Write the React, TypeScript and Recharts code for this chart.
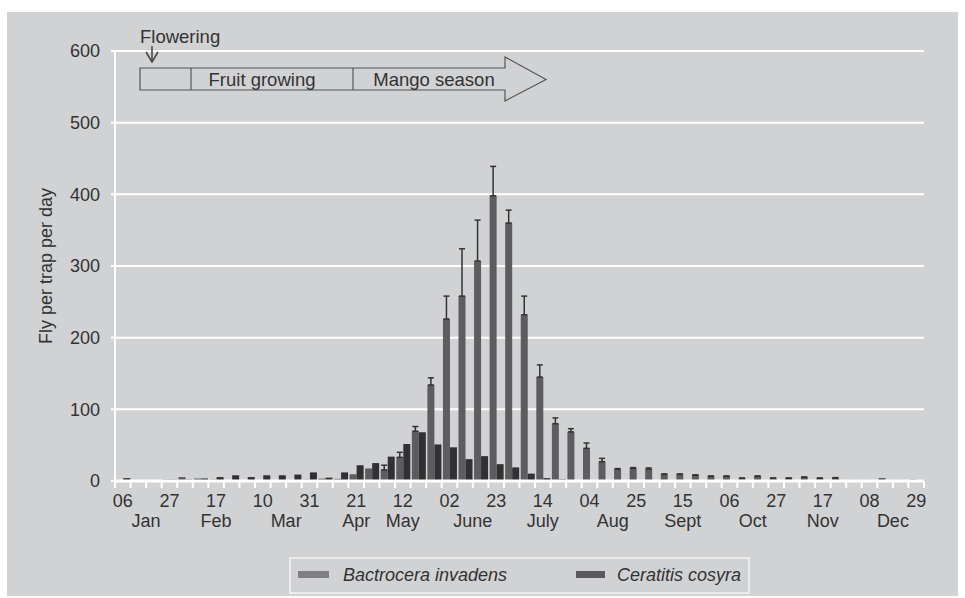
import React from 'react';
import { BarChart, Bar, XAxis, YAxis, CartesianGrid, ErrorBar } from 'recharts';

// weekly trap checks, one category per week
const weeks = [
  '06 Jan', '13 Jan', '20 Jan', '27 Jan', '03 Feb', '10 Feb', '17 Feb', '24 Feb',
  '03 Mar', '10 Mar', '17 Mar', '24 Mar', '31 Mar', '07 Apr', '14 Apr', '21 Apr',
  '28 Apr', '05 May', '12 May', '19 May', '26 May', '02 Jun', '09 Jun', '16 Jun',
  '23 Jun', '30 Jun', '07 Jul', '14 Jul', '21 Jul', '28 Jul', '04 Aug', '11 Aug',
  '18 Aug', '25 Aug', '01 Sep', '08 Sep', '15 Sep', '22 Sep', '29 Sep', '06 Oct',
  '13 Oct', '20 Oct', '27 Oct', '03 Nov', '10 Nov', '17 Nov', '24 Nov', '01 Dec',
  '08 Dec', '15 Dec', '22 Dec', '29 Dec',
];

const months = ['Jan', 'Feb', 'Mar', 'Apr', 'May', 'June', 'July', 'Aug', 'Sept', 'Oct', 'Nov', 'Dec'];
// week position (in categories) under which each month name sits
const monthWeekPos = [1.5, 6, 10.5, 15, 18, 22.5, 27, 31.5, 36, 40.5, 45, 49.5];

const bactrocera = [
  0.5, 1, 1, 2, 5.5, 3.5, 2, 0, 0, 1, 1, 1, 2, 3.3, 3, 9.4,
  17.5, 15.5, 33, 69.5, 134, 226, 258, 307, 398, 360, 232, 145, 80, 68.5, 45.6, 27,
  16.3, 17.7, 16.7, 9.3, 9.3, 8, 6.5, 6.5, 3.7, 6.5, 3.7, 3.7, 5.1, 3.7, 4.2, 1.5,
  1.5, 4.2, 1.5, 2,
];

const ceratitis = [
  4, 1, 0.5, 2, 2, 3.5, 5.5, 8, 5.5, 8, 8, 9, 12, 4.7, 12, 22,
  25, 34, 51.6, 68, 51, 47, 30.5, 34.7, 23.5, 19, 10.3, 4, 2.3, 1, 0, 0,
  0, 0, 0, 0, 0, 0, 0, 0, 0, 0, 0, 0, 0, 0, 0, 0,
  0, 0, 0, 0,
];

// upper half of the error bar for Bactrocera (null = none drawn)
const bactroceraErr = [
  null, null, null, null, null, null, null, null, null, null, null, null, null, null, null, null,
  null, 6.5, 7, 6.5, 10, 32, 66, 57, 41, 18, 26, 17, 8, 4.5, 7.4, 4.6,
  1, 1, 1.5, 0.5, 0.5, 0.5, 0.5, 0.5, 0.5, 0.5, 0.5, 0.5, 0.5, 0.5, 0.5, null,
  null, null, null, null,
];

const yTicks = [0, 100, 200, 300, 400, 500, 600];

const data = weeks.map((week, i) => ({
  week,
  bactrocera: bactrocera[i],
  ceratitis: ceratitis[i],
  err: bactroceraErr[i] == null ? null : [0, bactroceraErr[i]],
}));

const FONT = '"Liberation Sans", Arial, sans-serif';
const TEXT = '#333';
const PLOT_LEFT = 115;
const PLOT_RIGHT = 924;
const BAND = (PLOT_RIGHT - PLOT_LEFT) / weeks.length;

function WeekTick(props: any) {
  const { x, y, payload } = props;
  const i = payload.index;
  const edge = x - BAND / 2;
  return (
    <g>
      <line x1={edge} x2={edge} y1={y} y2={y + 7} stroke="#fff" strokeWidth={2} />
      {i === weeks.length - 1 && (
        <line x1={x + BAND / 2} x2={x + BAND / 2} y1={y} y2={y + 7} stroke="#fff" strokeWidth={2} />
      )}
      {i % 3 === 0 && (
        <text x={x} y={y + 26} textAnchor="middle" fill={TEXT} fontSize={18} fontFamily={FONT}>
          {payload.value.slice(0, 2)}
        </text>
      )}
      {monthWeekPos.map((p, m) =>
        Math.floor(p) === i ? (
          <text key={m} x={x + (p - i) * BAND} y={y + 46} textAnchor="middle" fill={TEXT} fontSize={18} fontFamily={FONT}>
            {months[m]}
          </text>
        ) : null
      )}
    </g>
  );
}

export default function App() {
  return (
    <div style={{ position: 'absolute', left: 0, top: 0, width: 965, height: 598, background: '#fff', fontFamily: FONT }}>
      <div style={{ position: 'absolute', left: 7, top: 12, right: 7, bottom: 2, background: '#d1d2d4' }} />

      <div style={{ position: 'absolute', left: 0, top: 0 }}>
        <BarChart
          width={965}
          height={598}
          data={data}
          margin={{ top: 51, right: 965 - PLOT_RIGHT, left: 0, bottom: 0 }}
          barCategoryGap="8%"
          barGap={0}
        >
          <CartesianGrid vertical={false} stroke="#fff" strokeWidth={2} />
          <XAxis
            dataKey="week"
            interval={0}
            height={117}
            tickSize={0}
            tickMargin={0}
            tickLine={false}
            axisLine={{ stroke: '#fff', strokeWidth: 3 }}
            tick={<WeekTick />}
          />
          <YAxis
            width={PLOT_LEFT}
            domain={[0, 600]}
            ticks={yTicks}
            tickSize={4}
            tickMargin={11}
            axisLine={{ stroke: '#fff', strokeWidth: 2 }}
            tickLine={{ stroke: '#fff', strokeWidth: 2 }}
            tick={{ fill: TEXT, fontSize: 18, fontFamily: FONT }}
            label={{
              content: ({ viewBox }: any) => (
                <text
                  x={46}
                  y={viewBox.y + viewBox.height / 2}
                  transform={`rotate(-90 46 ${viewBox.y + viewBox.height / 2})`}
                  textAnchor="middle"
                  dominantBaseline="central"
                  fill={TEXT}
                  fontSize={18}
                  fontFamily={FONT}
                >
                  Fly per trap per day
                </text>
              ),
            }}
          />
          <Bar dataKey="bactrocera" fill="#5d5d5f" isAnimationActive={false}>
            <ErrorBar dataKey="err" width={3} stroke="#333" strokeWidth={1.5} direction="y" isAnimationActive={false} />
          </Bar>
          <Bar dataKey="ceratitis" fill="#313133" isAnimationActive={false} />
        </BarChart>
      </div>

      {/* season annotation */}
      <svg width={965} height={120} style={{ position: 'absolute', left: 0, top: 0, overflow: 'visible' }}>
        <text x={140} y={43} fill={TEXT} fontSize={18.5} fontFamily={FONT}>Flowering</text>
        <line x1={152} x2={152} y1={46} y2={62} stroke="#444" strokeWidth={1.5} />
        <polyline points="146,52 152,62 158,52" fill="none" stroke="#444" strokeWidth={1.5} />
        <polygon
          points="140,68 505,68 505,57 546,79.5 505,101 505,90 140,90"
          fill="none"
          stroke="#555"
          strokeWidth={1.2}
        />
        <line x1={191} x2={191} y1={68} y2={90} stroke="#555" strokeWidth={1.2} />
        <line x1={353} x2={353} y1={68} y2={90} stroke="#555" strokeWidth={1.2} />
        <text x={262} y={86} textAnchor="middle" fill={TEXT} fontSize={18.5} fontFamily={FONT}>Fruit growing</text>
        <text x={434} y={86} textAnchor="middle" fill={TEXT} fontSize={18.5} fontFamily={FONT}>Mango season</text>
      </svg>

      {/* legend */}
      <div
        style={{
          position: 'absolute',
          left: 289,
          top: 557,
          width: 461,
          height: 37,
          boxSizing: 'border-box',
          border: '2px solid #ececec',
          fontStyle: 'italic',
          fontSize: 18,
          color: TEXT,
        }}
      >
        <div style={{ position: 'absolute', left: 7, top: 12, width: 31, height: 7, background: '#808082' }} />
        <div style={{ position: 'absolute', left: 52, top: 5, lineHeight: '22px' }}>Bactrocera invadens</div>
        <div style={{ position: 'absolute', left: 285, top: 12, width: 29, height: 7, background: '#5a5a5c' }} />
        <div style={{ position: 'absolute', left: 326, top: 5, lineHeight: '22px' }}>Ceratitis cosyra</div>
      </div>
    </div>
  );
}
